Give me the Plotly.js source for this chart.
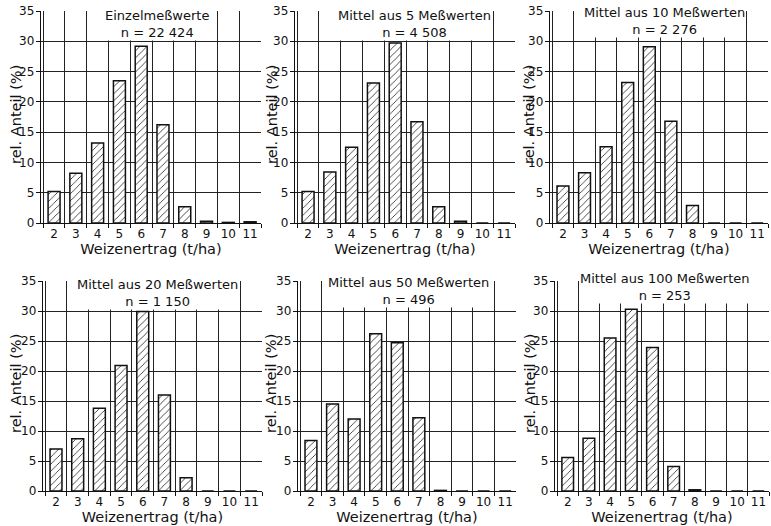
<!DOCTYPE html>
<html>
<head>
<meta charset="utf-8">
<script src="https://cdn.plot.ly/plotly-3.0.1.min.js"></script>
<style>html,body{margin:0;padding:0;background:#fff;}#chart{width:771px;height:526px;}</style>
</head>
<body>
<div id="chart"></div>
<script>
// Categories (Weizenertrag, t/ha)
const categories = ['2','3','4','5','6','7','8','9','10','11'];
// Relative shares (%) per panel
const einzelwerte = [5.2, 8.2, 13.2, 23.5, 29.2, 16.2, 2.7, 0.3, 0.1, 0.2];
const mittel5     = [5.2, 8.4, 12.5, 23.1, 29.7, 16.7, 2.7, 0.3, 0, 0];
const mittel10    = [6.1, 8.3, 12.6, 23.2, 29.1, 16.8, 2.9, 0, 0, 0];
const mittel20    = [7.0, 8.7, 13.8, 20.9, 29.9, 16.0, 2.2, 0, 0, 0];
const mittel50    = [8.4, 14.5, 12.0, 26.2, 24.7, 12.2, 0.1, 0, 0, 0];
const mittel100   = [5.6, 8.8, 25.5, 30.3, 23.9, 4.1, 0.2, 0, 0, 0];
const panelTitles = ['Einzelmeßwerte', 'Mittel aus 5 Meßwerten', 'Mittel aus 10 Meßwerten',
                     'Mittel aus 20 Meßwerten', 'Mittel aus 50 Meßwerten', 'Mittel aus 100 Meßwerten'];
const panelN = ['n = 22 424', 'n = 4 508', 'n = 2 276', 'n = 1 150', 'n = 496', 'n = 253'];
const yTickVals = [0, 5, 10, 15, 20, 25, 30, 35];
const xTitle = 'Weizenertrag (t/ha)';
const yTitle = 'rel. Anteil (%)';

const series = [einzelwerte, mittel5, mittel10, mittel20, mittel50, mittel100];

const W = 771, H = 526;
const xDomPx = [[41,261],[295,515],[550,768],[43,262],[298,516],[555,769]];
const yDomPx = [[11,223],[11,223],[11,223],[281,491],[281,491],[281,491]];
const titleBlockPx = [[157,24],[414,23.5],[664,21],[157,292.5],[408,290.5],[665,287]];
const yTitleXPx = [16, 272, 529, 16, 271, 530];

const FONT = 'DejaVu Sans, sans-serif';
const traces = [];
const layout = {
  width: W, height: H,
  margin: {l:0, r:0, t:0, b:0},
  paper_bgcolor: '#fff', plot_bgcolor: '#fff',
  showlegend: false,
  font: {family: FONT, color: '#111', size: 12},
  annotations: []
};

series.forEach((vals, i) => {
  const k = i + 1;
  const xa = 'x' + (k === 1 ? '' : k);
  const ya = 'y' + (k === 1 ? '' : k);
  traces.push({
    type: 'bar',
    x: categories,
    y: vals,
    xaxis: xa, yaxis: ya,
    width: 0.55,
    marker: {
      color: '#fff',
      line: {color: '#111', width: 1.5},
      pattern: {shape: '/', fgcolor: '#222', bgcolor: '#fff', size: 5, solidity: 0.16}
    },
    hoverinfo: 'skip'
  });
  const xd = xDomPx[i], yd = yDomPx[i];
  layout['xaxis' + (k === 1 ? '' : k)] = {
    domain: [xd[0]/W, xd[1]/W],
    anchor: ya,
    type: 'category',
    range: [-0.6, 9.5],
    tickson: 'boundaries',
    tickangle: 0,
    showgrid: true, gridcolor: '#222', gridwidth: 1,
    ticks: 'outside', ticklen: 4, tickcolor: '#111',
    ticklabelstandoff: -1,
    showline: true, linecolor: '#111', linewidth: 1.2,
    tickfont: {family: FONT, size: 12, color: '#111'},
    title: {text: xTitle, font: {family: FONT, size: 14.5, color: '#111'}, standoff: 4},
    automargin: false, fixedrange: true
  };
  layout['yaxis' + (k === 1 ? '' : k)] = {
    domain: [1 - yd[1]/H, 1 - yd[0]/H],
    anchor: xa,
    range: [0, 35],
    tickvals: yTickVals,
    showgrid: true, gridcolor: '#222', gridwidth: 1,
    zeroline: false,
    ticks: 'outside', ticklen: 4, tickcolor: '#111',
    ticklabelstandoff: -1,
    showline: true, linecolor: '#111', linewidth: 1.2,
    tickfont: {family: FONT, size: 12, color: '#111'},
    automargin: false, fixedrange: true
  };
  // y-axis title, placed as rotated text left of the tick labels
  layout.annotations.push({
    xref: 'paper', yref: 'paper',
    x: yTitleXPx[i]/W, y: 1 - ((yd[0] + yd[1]) / 2 - 2)/H,
    xanchor: 'center', yanchor: 'middle',
    text: yTitle, textangle: -90,
    showarrow: false,
    font: {family: FONT, size: 14.5, color: '#111'}
  });
  // panel title block (two lines)
  const t = titleBlockPx[i];
  layout.annotations.push({
    xref: 'paper', yref: 'paper',
    x: t[0]/W, y: 1 - t[1]/H,
    xanchor: 'center', yanchor: 'middle',
    text: panelTitles[i] + '<br>' + panelN[i],
    showarrow: false, align: 'center',
    bgcolor: '#fff', borderpad: 0,
    font: {family: FONT, size: 13, color: '#111'}
  });
});

Plotly.newPlot('chart', traces, layout, {displayModeBar: false, staticPlot: true});
</script>
</body>
</html>
